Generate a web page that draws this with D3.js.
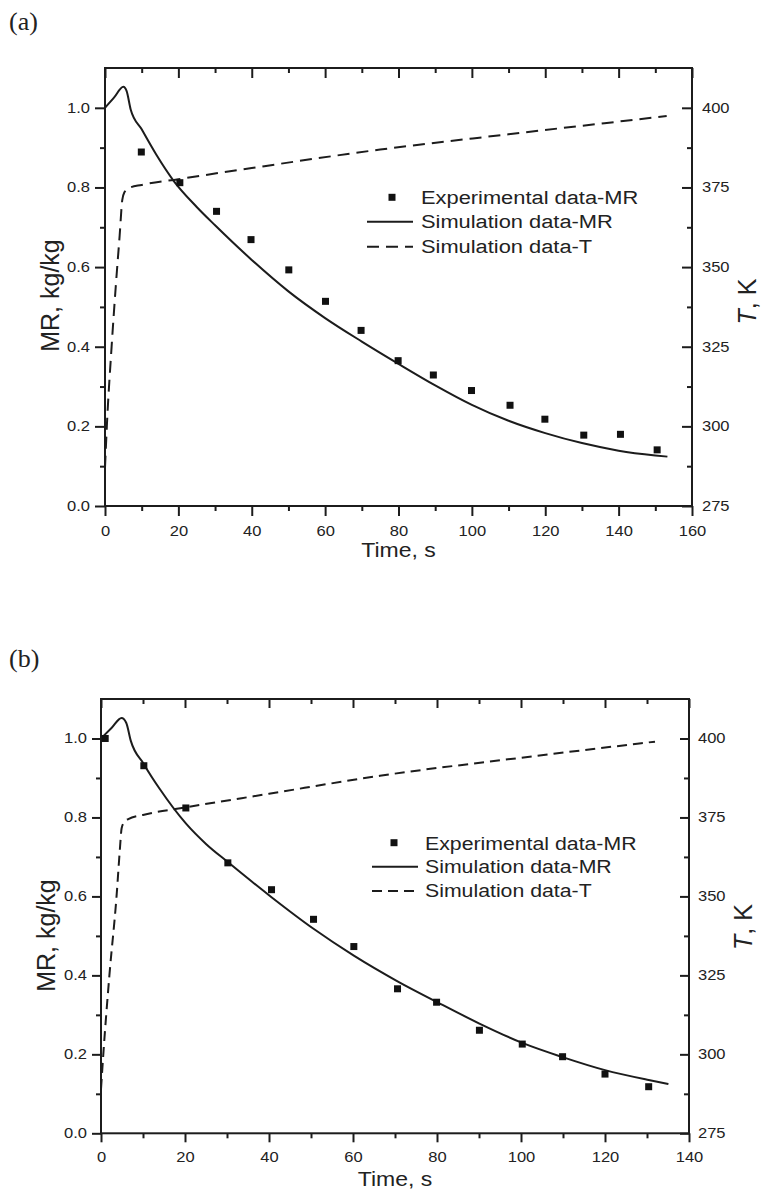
<!DOCTYPE html>
<html>
<head>
<meta charset="utf-8">
<script src="https://cdn.jsdelivr.net/npm/d3@7"></script>
<style>
  html, body { margin: 0; padding: 0; background: #fff; }
  svg { display: block; }
  text { font-family: "Liberation Sans", Arial, sans-serif; fill: #222; }
</style>
</head>
<body>
<svg id="chart" width="762" height="1199"></svg>
<script>
// ---------------- data ----------------
const panelLabels = ["(a)", "(b)"];
const legendLabels = ["Experimental data-MR", "Simulation data-MR", "Simulation data-T"];
const mrTickValues = [0.0, 0.2, 0.4, 0.6, 0.8, 1.0];
const tempTickValues = [275, 300, 325, 350, 375, 400];
const xTickValuesA = [0, 20, 40, 60, 80, 100, 120, 140, 160];
const xTickValuesB = [0, 20, 40, 60, 80, 100, 120, 140];

// panel (a)
const expTimeA = [9.9, 20.4, 30.4, 39.8, 50.1, 60.1, 69.8, 79.9, 89.5, 99.9, 110.4, 119.9, 130.5, 140.5, 150.5];
const expMRA   = [0.889, 0.812, 0.740, 0.669, 0.593, 0.514, 0.441, 0.365, 0.329, 0.290, 0.253, 0.218, 0.178, 0.180, 0.141];
const simTimeA = [0, 2.5, 5.0, 5.9, 7.0, 10, 14, 18.6, 25, 30, 40, 50, 60, 70, 80, 90, 100, 110, 120, 130, 140, 150, 153.3];
const simMRA   = [1.0, 1.026, 1.053, 1.042, 0.996, 0.946, 0.882, 0.818, 0.751, 0.705, 0.618, 0.539, 0.472, 0.413, 0.357, 0.303, 0.254, 0.214, 0.183, 0.158, 0.139, 0.127, 0.124];
const simTempTimeA = [0, 0.5, 1.8, 3.0, 4.0, 4.7, 5.3, 6.5, 10, 20, 40, 75, 110, 153.1];
const simTempA     = [287, 300, 325, 345, 360, 371, 373.5, 374.8, 375.8, 377.6, 381.1, 386.9, 391.7, 397.4];

// panel (b)
const expTimeB = [1.0, 10.2, 20.2, 30.2, 40.6, 50.6, 60.2, 70.6, 79.9, 90.1, 100.3, 109.9, 120.0, 130.4];
const expMRB   = [1.0, 0.931, 0.824, 0.685, 0.617, 0.542, 0.473, 0.366, 0.332, 0.261, 0.226, 0.194, 0.150, 0.118];
const simTimeB = [0, 2.5, 4.9, 6.0, 7.1, 10.2, 14, 20.2, 25, 30.2, 40.6, 50.6, 60.2, 70.6, 79.9, 90.1, 100.3, 109.9, 120, 130.4, 135.1];
const simMRB   = [1.0, 1.0265, 1.052, 1.04, 0.994, 0.935, 0.872, 0.785, 0.733, 0.687, 0.598, 0.518, 0.450, 0.385, 0.333, 0.278, 0.229, 0.193, 0.160, 0.135, 0.125];
const simTempTimeB = [0, 0.55, 2.0, 3.7, 4.5, 4.9, 5.5, 6.5, 10, 20.2, 40, 66.4, 100, 131.9];
const simTempB     = [289, 300, 325, 350, 365, 371.5, 373.5, 374.5, 375.8, 378.2, 382.5, 388.2, 393.9, 399.0];

// ---------------- layout ----------------
const panels = [
  {
    label: panelLabels[0], labelPos: [9, 30],
    left: 105, right: 692, top: 68, bottom: 506,
    xMax: 160, xTicks: xTickValuesA,
    expT: expTimeA, expMR: expMRA, simT: simTimeA, simMR: simMRA, tT: simTempTimeA, tV: simTempA,
    majorLen: 10, minorLen: 5, leftPad: 5, rightPad: 10,
    mrLabel: [59, 295.5], tLabel: [756, 301.5], timeLabelY: 557,
    legend: { marker: [392, 197.3], lineX: [367, 413], lineY: [221.7, 246.7], textX: 421, base: [204, 228, 253], font: 19 },
    dash: "12,7"
  },
  {
    label: panelLabels[1], labelPos: [9, 667],
    left: 101, right: 689, top: 699, bottom: 1133.3,
    xMax: 140, xTicks: xTickValuesB,
    expT: expTimeB, expMR: expMRB, simT: simTimeB, simMR: simMRB, tT: simTempTimeB, tV: simTempB,
    majorLen: 9, minorLen: 5, leftPad: 5, rightPad: 9,
    mrLabel: [55, 935.5], tLabel: [752, 927], timeLabelY: 1186,
    legend: { marker: [394, 842.7], lineX: [372, 418], lineY: [866.7, 891], textX: 425, base: [850, 873, 897], font: 18.5 },
    dash: "10,6"
  }
];

const ink = "#1c1c1c";
const SX = 1.18; // horizontal text stretch seen in reference
const svg = d3.select("#chart");

function stretchTicks(g) {
  g.selectAll(".tick text").each(function () {
    const t = d3.select(this);
    const x = +t.attr("x") || 0, y = +t.attr("y") || 0;
    t.attr("x", null).attr("y", null)
     .attr("transform", `translate(${x},${y}) scale(${SX},1)`);
  });
}

function styleAxis(g) {
  g.select(".domain").remove();
  g.selectAll(".tick line").attr("stroke", ink).attr("stroke-width", 2);
  g.selectAll(".tick text").attr("fill", ink).style("font-size", "14px")
    .style("font-family", '"Liberation Sans", Arial, sans-serif');
}

panels.forEach(p => {
  const g = svg.append("g");
  const x = d3.scaleLinear().domain([0, p.xMax]).range([p.left, p.right]);
  const y = d3.scaleLinear().domain([0, 1.1]).range([p.bottom, p.top]);
  const yT = d3.scaleLinear().domain([275, 412.5]).range([p.bottom, p.top]);

  const xMinor = d3.range(10, p.xMax, 20);
  const mrMinor = [0.1, 0.3, 0.5, 0.7, 0.9];
  const tMinor = [287.5, 312.5, 337.5, 362.5, 387.5];

  // panel label
  g.append("text").attr("x", p.labelPos[0]).attr("y", p.labelPos[1])
    .style("font-family", '"Liberation Serif", "Times New Roman", serif')
    .style("font-size", "26px").attr("fill", "#111").text(p.label);

  // bottom axis (outward)
  const gb = g.append("g").attr("transform", `translate(0,${p.bottom})`)
    .call(d3.axisBottom(x).tickValues(p.xTicks).tickSize(p.majorLen).tickPadding(10).tickSizeOuter(0).tickFormat(d3.format("d")));
  styleAxis(gb); stretchTicks(gb);
  const gbm = g.append("g").attr("transform", `translate(0,${p.bottom})`)
    .call(d3.axisBottom(x).tickValues(xMinor).tickSize(p.minorLen).tickSizeOuter(0).tickFormat(""));
  styleAxis(gbm);

  // top axis (inward)
  const gt = g.append("g").attr("transform", `translate(0,${p.top})`)
    .call(d3.axisTop(x).tickValues(p.xTicks).tickSize(-p.majorLen).tickSizeOuter(0).tickFormat(""));
  styleAxis(gt);
  const gtm = g.append("g").attr("transform", `translate(0,${p.top})`)
    .call(d3.axisTop(x).tickValues(xMinor).tickSize(-p.minorLen).tickSizeOuter(0).tickFormat(""));
  styleAxis(gtm);

  // left axis (outward)
  const gl = g.append("g").attr("transform", `translate(${p.left},0)`)
    .call(d3.axisLeft(y).tickValues(mrTickValues).tickSize(p.majorLen).tickPadding(p.leftPad).tickSizeOuter(0).tickFormat(d3.format(".1f")));
  styleAxis(gl); stretchTicks(gl);
  const glm = g.append("g").attr("transform", `translate(${p.left},0)`)
    .call(d3.axisLeft(y).tickValues(mrMinor).tickSize(p.minorLen).tickSizeOuter(0).tickFormat(""));
  styleAxis(glm);

  // right axis (inward ticks)
  const gr = g.append("g").attr("transform", `translate(${p.right},0)`)
    .call(d3.axisRight(yT).tickValues(tempTickValues).tickSize(-p.majorLen).tickPadding(p.rightPad).tickSizeOuter(0).tickFormat(d3.format("d")));
  styleAxis(gr); stretchTicks(gr);
  const grm = g.append("g").attr("transform", `translate(${p.right},0)`)
    .call(d3.axisRight(yT).tickValues(tMinor).tickSize(-p.minorLen).tickSizeOuter(0).tickFormat(""));
  styleAxis(grm);

  // frame
  g.append("rect").attr("x", p.left).attr("y", p.top)
    .attr("width", p.right - p.left).attr("height", p.bottom - p.top)
    .attr("fill", "none").attr("stroke", ink).attr("stroke-width", 2);

  // axis titles
  g.append("text")
    .attr("transform", `translate(${(p.left + p.right) / 2},${p.timeLabelY}) scale(1.15,1)`)
    .attr("text-anchor", "middle").style("font-size", "20px").attr("fill", ink).text("Time, s");

  g.append("text")
    .attr("transform", `translate(${p.mrLabel[0]},${p.mrLabel[1]}) rotate(-90)`)
    .attr("text-anchor", "middle").style("font-size", "25px").attr("fill", ink).text("MR, kg/kg");

  const tl = g.append("text")
    .attr("transform", `translate(${p.tLabel[0]},${p.tLabel[1]}) rotate(-90)`)
    .attr("text-anchor", "middle").style("font-size", "25px").attr("fill", ink);
  tl.append("tspan").style("font-style", "italic").text("T");
  tl.append("tspan").text(", K");

  // simulation T (dashed)
  const tData = p.tT.map((t, i) => [t, p.tV[i]]);
  g.append("path").datum(tData)
    .attr("d", d3.line().x(d => x(d[0])).y(d => yT(d[1])).curve(d3.curveMonotoneX))
    .attr("fill", "none").attr("stroke", ink).attr("stroke-width", 2).attr("stroke-dasharray", p.dash);

  // simulation MR (solid)
  const mrData = p.simT.map((t, i) => [t, p.simMR[i]]);
  g.append("path").datum(mrData)
    .attr("d", d3.line().x(d => x(d[0])).y(d => y(d[1])).curve(d3.curveMonotoneX))
    .attr("fill", "none").attr("stroke", ink).attr("stroke-width", 2);

  // experimental points
  const ms = 7;
  const eData = p.expT.map((t, i) => [t, p.expMR[i]]);
  g.selectAll("rect.pt").data(eData).enter().append("rect").attr("class", "pt")
    .attr("x", d => x(d[0]) - ms / 2).attr("y", d => y(d[1]) - ms / 2)
    .attr("width", ms).attr("height", ms).attr("fill", "#111");

  // legend
  const L = p.legend;
  g.append("rect").attr("x", L.marker[0] - ms / 2).attr("y", L.marker[1] - ms / 2)
    .attr("width", ms).attr("height", ms).attr("fill", "#111");
  g.append("line").attr("x1", L.lineX[0]).attr("x2", L.lineX[1]).attr("y1", L.lineY[0]).attr("y2", L.lineY[0])
    .attr("stroke", ink).attr("stroke-width", 2);
  g.append("line").attr("x1", L.lineX[0]).attr("x2", L.lineX[1]).attr("y1", L.lineY[1]).attr("y2", L.lineY[1])
    .attr("stroke", ink).attr("stroke-width", 2).attr("stroke-dasharray", p.dash);
  legendLabels.forEach((lab, i) => {
    g.append("text")
      .attr("transform", `translate(${L.textX},${L.base[i]}) scale(1.15,1)`)
      .style("font-size", L.font + "px").attr("fill", ink).text(lab);
  });
});
</script>
</body>
</html>
